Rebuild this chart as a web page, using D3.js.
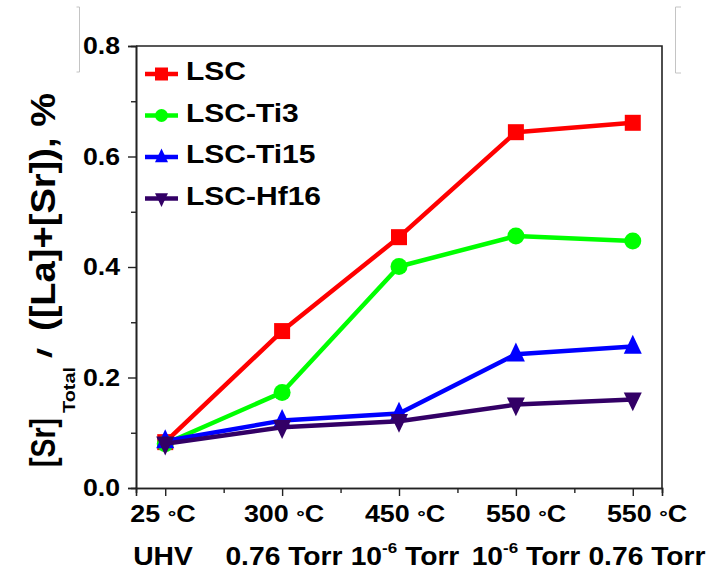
<!DOCTYPE html>
<html>
<head>
<meta charset="utf-8">
<script src="https://cdn.jsdelivr.net/npm/d3@7"></script>
<style>
  html, body { margin: 0; padding: 0; background: #fff; }
  svg { display: block; }
  text { font-family: "Liberation Sans", Arial, sans-serif; font-weight: bold; fill: #000; }
</style>
</head>
<body>
<script>
// Conditions along the x axis
const temperatures = ["25", "300", "450", "550", "550"];
const pressures = ["UHV", "0.76 Torr", "10^-6 Torr", "10^-6 Torr", "0.76 Torr"];

// Surface Sr fraction for each composition
const seriesNames = ["LSC", "LSC-Ti3", "LSC-Ti15", "LSC-Hf16"];
const lscValues  = [0.083, 0.284, 0.454, 0.644, 0.661];
const ti3Values  = [0.080, 0.173, 0.401, 0.456, 0.447];
const ti15Values = [0.085, 0.122, 0.135, 0.242, 0.256];
const hf16Values = [0.080, 0.110, 0.121, 0.151, 0.160];

const yTicks = [0, 0.2, 0.4, 0.6, 0.8];
const yMinorTicks = [0.1, 0.3, 0.5, 0.7];

const W = 710, H = 570;
const svg = d3.select("body").append("svg").attr("width", W).attr("height", H);
svg.append("rect").attr("width", W).attr("height", H).attr("fill", "#fff");

const x = d3.scaleLinear().domain([-0.25, 4.25]).range([136, 662]);
const y = d3.scaleLinear().domain([0, 0.8]).range([488, 46]);
// condition captions are laid out on a slightly wider pitch than the ticks
const labelX = d3.scaleLinear().domain([0, 4]).range([163, 647]);

const series = [
  { name: seriesNames[0], values: lscValues,  color: "#ff0000", symbol: "square" },
  { name: seriesNames[1], values: ti3Values,  color: "#00ff00", symbol: "circle" },
  { name: seriesNames[2], values: ti15Values, color: "#0000ff", symbol: "up" },
  { name: seriesNames[3], values: hf16Values, color: "#330066", symbol: "down" }
];

// marker shapes, s = nominal width
function markerPath(type, s) {
  if (type === "square") return `M${-s/2},${-s/2}H${s/2}V${s/2}H${-s/2}Z`;
  if (type === "circle") { const r = s/2; return `M${r},0A${r},${r} 0 1,1 ${-r},0A${r},${r} 0 1,1 ${r},0Z`; }
  const h = s * 1.05;
  if (type === "up") return `M0,${-h*0.62}L${s/2},${h*0.38}L${-s/2},${h*0.38}Z`;
  return `M0,${h*0.62}L${s/2},${-h*0.38}L${-s/2},${-h*0.38}Z`;
}

// light selection brackets at the top corners
svg.append("path").attr("d", "M76.5,7H79.5V72H76.5").attr("fill", "none")
  .attr("stroke", "#c4c4c4").attr("stroke-width", 1);
svg.append("path").attr("d", "M681,7H675.5V73H681").attr("fill", "none")
  .attr("stroke", "#c4c4c4").attr("stroke-width", 1);

// axes
const axisColor = "#222";
const yAxis = svg.append("g").attr("transform", `translate(${x.range()[0]},0)`)
  .call(d3.axisLeft(y).tickValues(yTicks).tickSize(8).tickFormat(""));
const yMinor = svg.append("g").attr("transform", `translate(${x.range()[0]},0)`)
  .call(d3.axisLeft(y).tickValues(yMinorTicks).tickSize(5).tickFormat(""));
const xAxis = svg.append("g").attr("transform", `translate(0,${y.range()[0]})`)
  .call(d3.axisBottom(x).tickValues(d3.range(temperatures.length)).tickSize(8).tickFormat(""));
const xMinor = svg.append("g").attr("transform", `translate(0,${y.range()[0]})`)
  .call(d3.axisBottom(x).tickValues(d3.range(temperatures.length - 1).map(i => i + 0.5)).tickSize(5).tickFormat(""));
[yAxis, yMinor, xAxis, xMinor].forEach(g => {
  g.selectAll("path.domain").attr("stroke", axisColor).attr("stroke-width", 1.6);
  g.selectAll(".tick line").attr("stroke", axisColor).attr("stroke-width", 1.4);
});
// top and right frame
svg.append("path")
  .attr("d", `M${x.range()[0]},${y.range()[1]}H${x.range()[1]}V${y.range()[0]}`)
  .attr("fill", "none").attr("stroke", axisColor).attr("stroke-width", 1.6);

// y tick labels
const fmt = d3.format(".1f");
yTicks.forEach(v => {
  svg.append("text")
    .attr("transform", `translate(120,${y(v) + 8}) scale(1.16,1)`)
    .attr("text-anchor", "end").attr("font-size", 23).text(fmt(v));
});

// x tick labels, two rows
temperatures.forEach((t, i) => {
  const tx = svg.append("text")
    .attr("transform", `translate(${labelX(i)},522) scale(1.12,1)`)
    .attr("text-anchor", "middle").attr("font-size", 24);
  tx.append("tspan").text(t + " ");
  tx.append("tspan").attr("font-size", 19).attr("dy", 1).text("°");
  tx.append("tspan").attr("dy", -1).text("C");
});
pressures.forEach((p, i) => {
  const tx = svg.append("text")
    .attr("transform", `translate(${labelX(i)},565) scale(1.13,1)`)
    .attr("text-anchor", "middle").attr("font-size", 25);
  const m = p.match(/^(\d+)\^(\S+)(.*)$/);
  if (m) {
    tx.append("tspan").text(m[1]);
    tx.append("tspan").attr("font-size", 15).attr("dy", -12).text(m[2]);
    tx.append("tspan").attr("dy", 12).text(m[3]);
  } else {
    tx.append("tspan").text(p);
  }
});

// y axis title, written bottom to top
function vText(str, u0, len, baseX, size) {
  return svg.append("text")
    .attr("transform", `translate(${baseX},${u0}) rotate(-90)`)
    .attr("font-size", size)
    .attr("textLength", len).attr("lengthAdjust", "spacingAndGlyphs")
    .text(str);
}
vText("[Sr]", 467, 49, 55, 35);
vText("Total", 413, 46, 75, 17);
vText("/", 358, 10, 52, 20);
vText("([La]+[Sr]), %", 331, 238, 55, 35);

// series lines and markers
const line = d3.line().x((d, i) => x(i)).y(d => y(d));
series.forEach(s => {
  const g = svg.append("g");
  g.append("path").attr("d", line(s.values)).attr("fill", "none")
    .attr("stroke", s.color).attr("stroke-width", 4.5).attr("stroke-linejoin", "round");
  g.selectAll("path.m").data(s.values).enter().append("path").attr("class", "m")
    .attr("transform", (d, i) => `translate(${x(i)},${y(d)})`)
    .attr("d", markerPath(s.symbol, s.symbol === "circle" ? 17 : s.symbol === "square" ? 16 : 18))
    .attr("fill", s.color);
});

// legend
const legendY = [74, 115.5, 157, 198.5];
series.forEach((s, k) => {
  const g = svg.append("g").attr("transform", `translate(0,${legendY[k]})`);
  g.append("line").attr("x1", 145).attr("x2", 178).attr("y1", 0).attr("y2", 0)
    .attr("stroke", s.color).attr("stroke-width", 4.5);
  g.append("path").attr("transform", "translate(161.5,0)")
    .attr("d", markerPath(s.symbol, 13)).attr("fill", s.color);
  g.append("text").attr("transform", "translate(186,6) scale(1.2,1)")
    .attr("font-size", 25).text(s.name);
});
</script>
</body>
</html>
